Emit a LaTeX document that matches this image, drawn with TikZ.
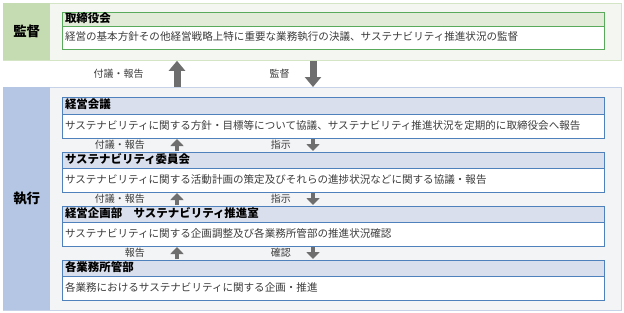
\documentclass[tikz,border=0pt]{standalone}
\usepackage{fontspec}
\setmainfont{Noto Sans CJK JP}
\usepackage{tikz}
\usetikzlibrary{arrows.meta,positioning}
\usepackage{xcolor}
\definecolor{kanGreen}{HTML}{C5DBB2}
\definecolor{topFill}{HTML}{F3F6F1}
\definecolor{topLine}{HTML}{D3E5C4}
\definecolor{boardLine}{HTML}{5AAA5C}
\definecolor{boardHead}{HTML}{E2EBD7}
\definecolor{execBlue}{HTML}{B4C6E4}
\definecolor{lowFill}{HTML}{F3F4F6}
\definecolor{lowLine}{HTML}{C5D2E8}
\definecolor{boxLine}{HTML}{4F81BD}
\definecolor{boxHead}{HTML}{D9DFEC}
\definecolor{arrGray}{HTML}{6E6E6E}
\definecolor{bodyText}{HTML}{3C3C3C}

\begin{document}
\begin{tikzpicture}[
  x=1bp, y=-1bp,
  node distance=0bp,
  panel/.style={draw, anchor=north west, inner sep=0pt, line width=0.8bp,
                minimum width=618bp},
  side/.style={anchor=north west, inner sep=0pt, minimum width=47bp,
               font=\bfseries\fontsize{13.5}{15}\selectfont},
  head/.style={draw=#1, anchor=north west, inner xsep=3bp, inner ysep=0pt,
               outer sep=0pt, text width=536bp, text height=9bp, text depth=2.5bp,
               minimum height=16bp, line width=0.9bp,
               font=\bfseries\fontsize{11.5}{13}\selectfont},
  body/.style={draw=#1, fill=white, inner xsep=3bp, inner ysep=0pt,
               outer sep=0pt, text width=536bp, text height=8.5bp, text depth=2.5bp,
               minimum height=24bp, line width=0.9bp,
               text=bodyText, font=\fontsize{10.6}{12}\selectfont},
  lbl/.style={inner sep=0pt, text=bodyText, font=\fontsize{10}{12}\selectfont},
  bigarr/.style={-{Triangle[width=16bp,length=10bp]}, line width=7bp, arrGray},
  smallarr/.style={-{Triangle[width=13bp,length=7bp]}, line width=4.5bp, arrGray,
                   shorten <=1bp, shorten >=1bp},
]
  \useasboundingbox (0,0) rectangle (624,312);

  % bands
  \node[panel, draw=topLine, fill=topFill, minimum height=57bp] (toppanel) at (3,3) {};
  \node[side, fill=kanGreen, minimum height=57bp] (kansa) at (3,3) {監督};
  \node[panel, draw=lowLine, fill=lowFill, minimum height=223bp] (lowpanel) at (3,87) {};
  \node[side, fill=execBlue, minimum height=223bp] (shikko) at (3,87) {執行};

  % boxes
  \node[head=boardLine, fill=boardHead, minimum height=14bp] (torihead) at (62,12) {取締役会};
  \node[body=boardLine, minimum height=23bp, below=of torihead] (toribody)
    {経営の基本方針その他経営戦略上特に重要な業務執行の決議、サステナビリティ推進状況の監督};

  \node[head=boxLine, fill=boxHead, minimum height=17bp] (kaigihead) at (62,97) {経営会議};
  \node[body=boxLine, below=of kaigihead] (kaigibody)
    {サステナビリティに関する方針・目標等について協議、サステナビリティ推進状況を定期的に取締役会へ報告};

  \node[head=boxLine, fill=boxHead, below=14bp of kaigibody] (iinhead) {サステナビリティ委員会};
  \node[body=boxLine, below=of iinhead] (iinbody)
    {サステナビリティに関する活動計画の策定及びそれらの進捗状況などに関する協議・報告};

  \node[head=boxLine, fill=boxHead, below=14bp of iinbody] (kikakuhead) {経営企画部\quad サステナビリティ推進室};
  \node[body=boxLine, below=of kikakuhead] (kikakubody)
    {サステナビリティに関する企画調整及び各業務所管部の推進状況確認};

  \node[head=boxLine, fill=boxHead, below=14bp of kikakubody] (gyomuhead) {各業務所管部};
  \node[body=boxLine, below=of gyomuhead] (gyomubody)
    {各業務におけるサステナビリティに関する企画・推進};

  % arrows
  \coordinate (upx) at (177,0);
  \coordinate (dnx) at (313,0);

  \draw[bigarr] (lowpanel.north -| upx) -- (toppanel.south -| upx)
    node[midway, lbl, left=30bp] (fugi0) {付議・報告};
  \draw[bigarr] (toppanel.south -| dnx) -- (lowpanel.north -| dnx)
    node[midway, lbl, left=20bp] (kantoku0) {監督};

  \draw[smallarr] (iinhead.north -| upx) -- (kaigibody.south -| upx)
    node[midway, lbl, left=30bp] (fugi1) {付議・報告};
  \draw[smallarr] (kaigibody.south -| dnx) -- (iinhead.north -| dnx)
    node[midway, lbl, left=20bp] (shiji1) {指示};

  \draw[smallarr] (kikakuhead.north -| upx) -- (iinbody.south -| upx)
    node[midway, lbl, left=30bp] (fugi2) {付議・報告};
  \draw[smallarr] (iinbody.south -| dnx) -- (kikakuhead.north -| dnx)
    node[midway, lbl, left=20bp] (shiji2) {指示};

  \draw[smallarr] (gyomuhead.north -| upx) -- (kikakubody.south -| upx)
    node[midway, lbl, left=30bp] (hokoku3) {報告};
  \draw[smallarr] (kikakubody.south -| dnx) -- (gyomuhead.north -| dnx)
    node[midway, lbl, left=20bp] (kakunin3) {確認};
\end{tikzpicture}
\end{document}
